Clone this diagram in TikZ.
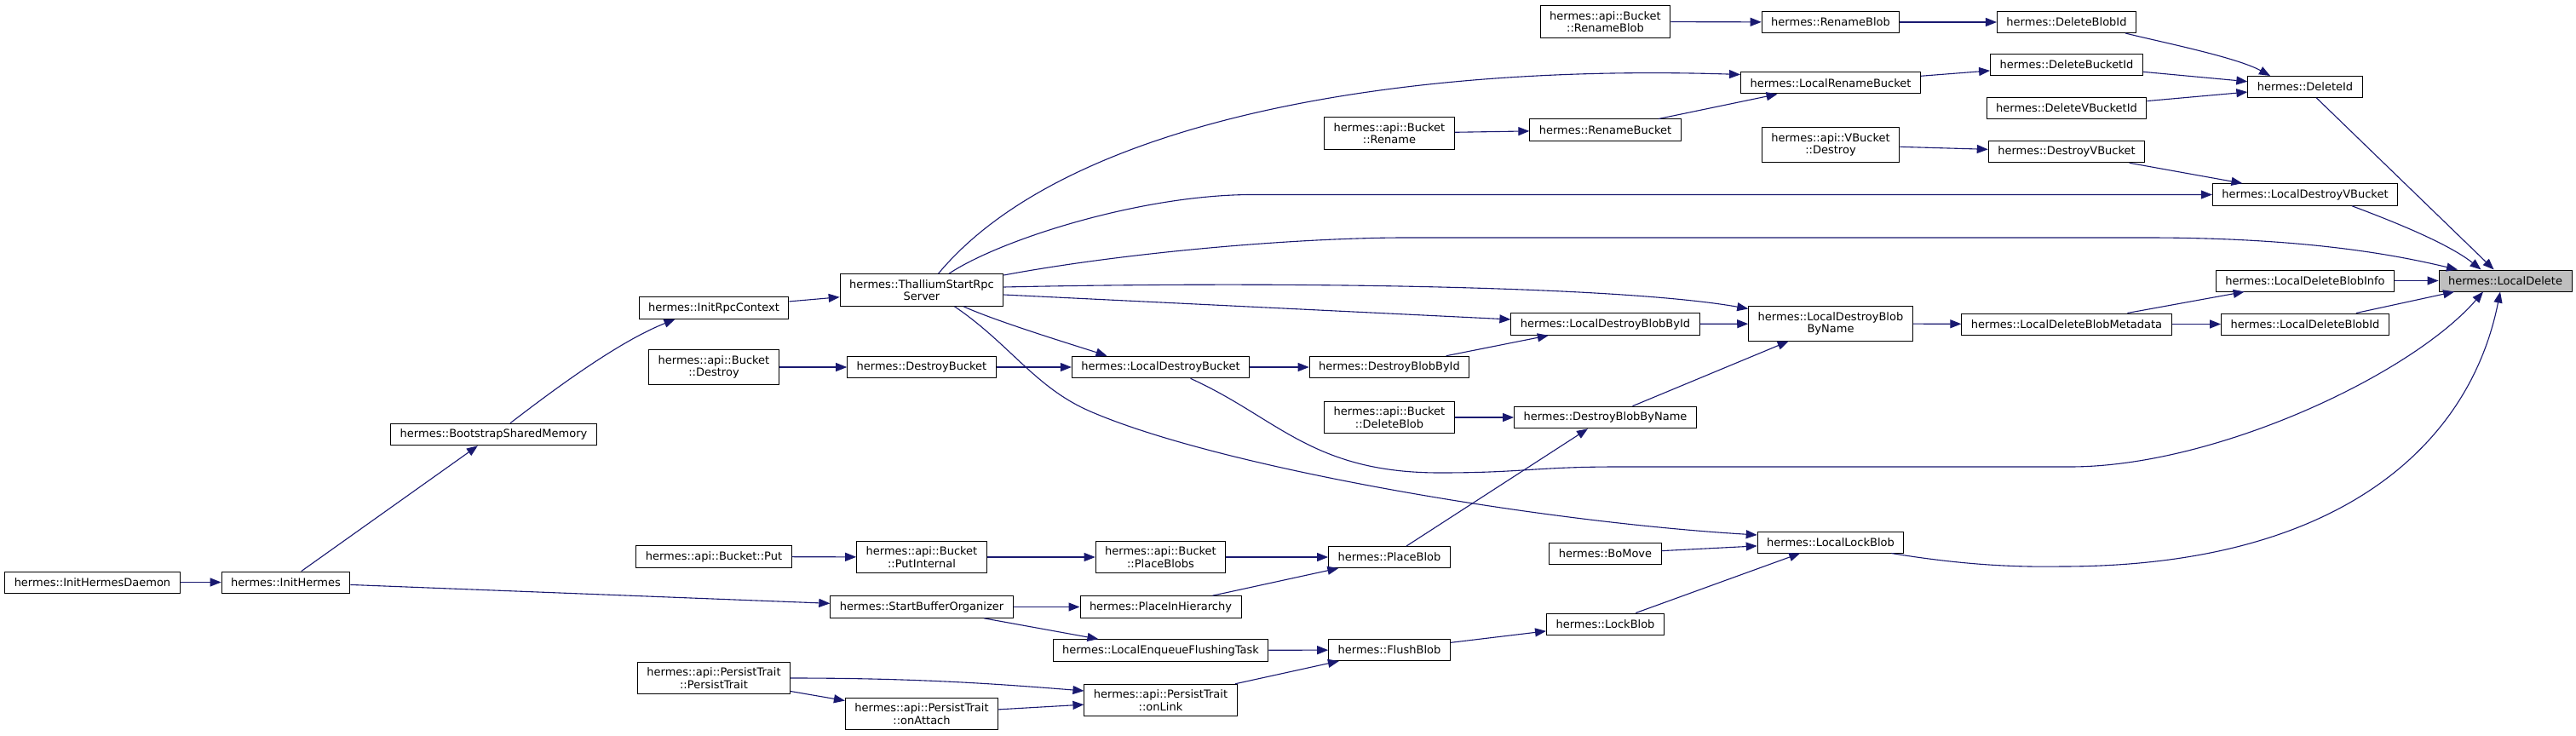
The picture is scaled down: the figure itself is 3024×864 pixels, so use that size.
\documentclass[tikz,border=0pt]{standalone}
\usepackage{fontspec}
\setmainfont{DejaVu Sans}
\usepackage{tikz}
\usetikzlibrary{arrows.meta}
\definecolor{edgeblue}{HTML}{191970}
\definecolor{hlgray}{HTML}{BFBFBF}

\begin{document}
\begin{tikzpicture}[x=1pt,y=-1pt,
box/.style={rectangle,draw=black,fill=white,line width=1pt,align=center,inner xsep=11pt,inner ysep=6.5pt,minimum height=25pt,font=\fontsize{13}{14.5}\selectfont},
cur/.style={box,fill=hlgray},
arrow/.style={-{Triangle[length=13pt,width=10pt]},draw=edgeblue,line width=1.1pt}]
\path[use as bounding box,fill=white](0,0)rectangle(3024,864);
\node[box](ihd) at (108.5,683.5){hermes::InitHermesDaemon};
\node[box](ih) at (335.5,683.5){hermes::InitHermes};
\node[box](bsm) at (579.5,510){hermes::BootstrapSharedMemory};
\node[box](irc) at (838,361.5){hermes::InitRpcContext};
\node[box](abdestroy) at (838,431){hermes::api::Bucket\\::Destroy};
\node[box](aput) at (838,653.5){hermes::api::Bucket::Put};
\node[box](ptpt) at (838,796){hermes::api::PersistTrait\\::PersistTrait};
\node[box](tsr) at (1082,340.5){hermes::ThalliumStartRpc\\Server};
\node[box](dbk) at (1082,431){hermes::DestroyBucket};
\node[box](putint) at (1082,654){hermes::api::Bucket\\::PutInternal};
\node[box](sbo) at (1082,712.5){hermes::StartBufferOrganizer};
\node[box](onatt) at (1082,838){hermes::api::PersistTrait\\::onAttach};
\node[box](ldbk) at (1362.5,431){hermes::LocalDestroyBucket};
\node[box](plblobs) at (1362.5,654){hermes::api::Bucket\\::PlaceBlobs};
\node[box](pih) at (1362.5,712.5){hermes::PlaceInHierarchy};
\node[box](lef) at (1362.5,763.5){hermes::LocalEnqueueFlushingTask};
\node[box](onlink) at (1362.5,822){hermes::api::PersistTrait\\::onLink};
\node[box](arename) at (1631,156.5){hermes::api::Bucket\\::Rename};
\node[box](dbid) at (1631,431){hermes::DestroyBlobById};
\node[box](adelblob) at (1631,490){hermes::api::Bucket\\::DeleteBlob};
\node[box](plblob) at (1631,654){hermes::PlaceBlob};
\node[box](flush) at (1631,763){hermes::FlushBlob};
\node[box](arenblob) at (1884.5,25.5){hermes::api::Bucket\\::RenameBlob};
\node[box](renbkt) at (1884.5,152.5){hermes::RenameBucket};
\node[box](ldbbid) at (1884.5,380.5){hermes::LocalDestroyBlobById};
\node[box](dbbn) at (1884.5,490){hermes::DestroyBlobByName};
\node[box](bomove) at (1884.5,650){hermes::BoMove};
\node[box](lockblob) at (1884.5,732.5){hermes::LockBlob};
\node[box](renblob) at (2149,26){hermes::RenameBlob};
\node[box](lrb) at (2149,97.5){hermes::LocalRenameBucket};
\node[box](avbd) at (2149,170){hermes::api::VBucket\\::Destroy};
\node[box](ldbbn) at (2149,380){hermes::LocalDestroyBlob\\ByName};
\node[box](llock) at (2149,636.5){hermes::LocalLockBlob};
\node[box](delblobid) at (2426,26){hermes::DeleteBlobId};
\node[box](delbktid) at (2426,76){hermes::DeleteBucketId};
\node[box](delvbid) at (2426,127){hermes::DeleteVBucketId};
\node[box](dvb) at (2426,178){hermes::DestroyVBucket};
\node[box](ldbm) at (2426,380.5){hermes::LocalDeleteBlobMetadata};
\node[box](delid) at (2706,102){hermes::DeleteId};
\node[box](ldvb) at (2706,228.5){hermes::LocalDestroyVBucket};
\node[box](ldbi) at (2706,329.5){hermes::LocalDeleteBlobInfo};
\node[box](ldbid) at (2706,380.5){hermes::LocalDeleteBlobId};
\node[cur](ld) at (2941,329.5){hermes::LocalDelete};
\draw[arrow](ihd)--(ih);
\draw[arrow](ih)--(bsm);
\draw[arrow](ih)--(sbo);
\draw[arrow]([xshift=19.5pt]bsm.north) .. controls +(61,-47) and +(-63,25) .. ([xshift=-45.5pt]irc.south);
\draw[arrow](irc)--(tsr);
\draw[arrow](abdestroy)--(dbk);
\draw[arrow](dbk)--(ldbk);
\draw[arrow]([xshift=49pt]tsr.south) .. controls +(40,18) and +(-40,-13) .. ([xshift=-63pt]ldbk.north);
\draw[arrow]([xshift=19.5pt]tsr.north) .. controls +(150,-180) and +(-403,-13) .. ([yshift=10pt]lrb.west);
\draw[arrow]([xshift=32pt]tsr.north) .. controls +(60,-40) and +(-130,0) .. (1470,228.5) -- (ldvb.west);
\draw[arrow]([yshift=17.5pt]tsr.east) .. controls +(150,-28) and +(-120,0) .. (1650,279) -- (2520,279) .. controls +(200,0) and +(-60,-14) .. ([xshift=-56pt]ld.north);
\draw[arrow]([yshift=3.5pt]tsr.east) .. controls +(323,-7) and +(-152,-27) .. ([yshift=-3pt]ldbbn.north west);
\draw[arrow]([yshift=-5.5pt]tsr.east)--([yshift=5.5pt]ldbbid.west);
\draw[arrow]([xshift=38.5pt]tsr.south) .. controls +(65,44) and +(-65,-28) .. (1280,483) .. controls +(150,65) and +(-263,-16) .. ([yshift=-4.5pt]llock.north west);
\draw[arrow]([xshift=35pt]ldbk.south) .. controls +(102,46) and +(-150,0) .. (1690,555) .. controls +(100,0) and +(-100,0) .. (1900,548) -- (2430,548) .. controls +(170,0) and +(-85,98) .. ([xshift=-26pt]ld.south);
\draw[arrow](ldbk)--(dbid);
\draw[arrow](dbid)--(ldbbid);
\draw[arrow](ldbbid)--(ldbbn);
\draw[arrow](adelblob)--(dbbn);
\draw[arrow](dbbn)--(ldbbn);
\draw[arrow](plblob)--(dbbn);
\draw[arrow](ldbbn)--(ldbm);
\draw[arrow](ldbm)--(ldbi);
\draw[arrow](ldbm)--(ldbid);
\draw[arrow](ldbi)--(ld);
\draw[arrow](ldbid)--(ld);
\draw[arrow](delid)--(ld);
\draw[arrow]([xshift=55pt]ldvb.south) .. controls +(40,15) and +(-40,-32) .. ([xshift=-28.5pt]ld.north);
\draw[arrow]([xshift=-15pt]llock.south east) .. controls +(80,13) and +(-60,1) .. (2420,665) .. controls +(330,0) and +(-35,177) .. ([xshift=-6pt]ld.south);
\draw[arrow](arenblob)--(renblob);
\draw[arrow](renblob)--(delblobid);
\draw[arrow]([xshift=69pt]delblobid.south) .. controls +(40,10) and +(-40,-22) .. ([xshift=-41pt]delid.north);
\draw[arrow](lrb)--(delbktid);
\draw[arrow](delbktid)--(delid);
\draw[arrow](delvbid)--(delid);
\draw[arrow](arename)--(renbkt);
\draw[arrow](renbkt)--(lrb);
\draw[arrow](avbd)--(dvb);
\draw[arrow](dvb)--(ldvb);
\draw[arrow](aput)--(putint);
\draw[arrow](putint)--(plblobs);
\draw[arrow](plblobs)--(plblob);
\draw[arrow](pih)--(plblob);
\draw[arrow](sbo)--(pih);
\draw[arrow](sbo)--(lef);
\draw[arrow](lef)--(flush);
\draw[arrow](onlink)--(flush);
\draw[arrow](ptpt.east) .. controls +(150,0) and +(-100,-8) .. ([yshift=11pt]onlink.west);
\draw[arrow](ptpt)--(onatt);
\draw[arrow](onatt)--(onlink);
\draw[arrow](flush)--(lockblob);
\draw[arrow](lockblob)--(llock);
\draw[arrow](bomove)--(llock);
\end{tikzpicture}
\end{document}
